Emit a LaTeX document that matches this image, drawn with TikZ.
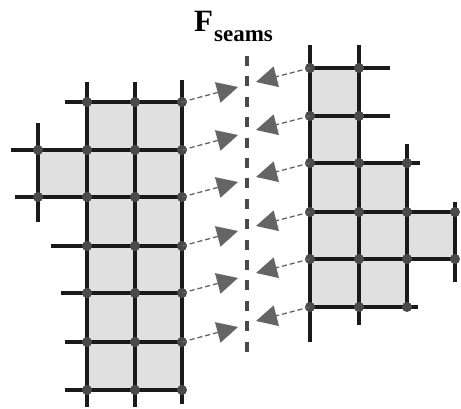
\documentclass[tikz,border=0pt]{standalone}
\usepackage{fontspec}
\setmainfont{Liberation Serif}
\usetikzlibrary{arrows.meta}
\definecolor{cellfill}{HTML}{E0E0E0}
\definecolor{dotgray}{HTML}{4A4A4A}
\definecolor{arrgray}{HTML}{656565}
\definecolor{gridline}{HTML}{1A1A1A}
\begin{document}
\begin{tikzpicture}[x=1pt,y=-1pt,
  cell/.style={fill=cellfill,draw=none},
  gline/.style={draw=gridline,line width=3.4pt},
  dot/.style={circle,fill=dotgray,inner sep=0pt,minimum size=10pt},
  seamarrow/.style={draw=arrgray,line width=1.3pt,dash pattern=on 5pt off 3pt,
    -{Triangle[length=21pt,width=21pt]}},
  seamline/.style={draw=dotgray,line width=3.5pt,dash pattern=on 10pt off 10.4pt}]
\useasboundingbox (0,0) rectangle (461,409);
% title
\node[anchor=base west,inner sep=0pt] (title) at (194,32)
  {\fontsize{31}{31}\selectfont\bfseries F\kern1pt\raisebox{-10pt}{\fontsize{23}{23}\selectfont seams}};
% cells
\fill[cell] (87,102) rectangle (182,390);
\fill[cell] (38,150) rectangle (87,197);
\fill[cell] (310,68) rectangle (359,307);
\fill[cell] (359,163) rectangle (407,307);
\fill[cell] (407,212) rectangle (455,259);
% left grid lines
\draw[gline] (65,102)--(182,102);
\draw[gline] (11,150)--(182,150);
\draw[gline] (15,197)--(182,197);
\draw[gline] (51,246)--(182,246);
\draw[gline] (61,293)--(182,293);
\draw[gline] (65,342)--(182,342);
\draw[gline] (65,390)--(182,390);
\draw[gline] (38,123)--(38,222);
\draw[gline] (87,82)--(87,407);
\draw[gline] (135,82)--(135,407);
\draw[gline] (182,80)--(182,404);
% right grid lines
\draw[gline] (310,68)--(390,68);
\draw[gline] (310,116)--(390,116);
\draw[gline] (310,163)--(420,163);
\draw[gline] (310,212)--(455,212);
\draw[gline] (310,259)--(455,259);
\draw[gline] (310,307)--(418,307);
\draw[gline] (310,45)--(310,342);
\draw[gline] (359,45)--(359,325);
\draw[gline] (407,144)--(407,307);
\draw[gline] (455,202)--(455,282);
% seam
\coordinate (seamtop) at (247,56);
\coordinate (seambot) at (247,352);
\draw[seamline] (seamtop)--(seambot);
% left dots
\foreach \y/\n in {102/1,150/2,197/3,246/4,293/5,342/6,390/7} {
  \node[dot] (l87-\n) at (87,\y) {};
  \node[dot] (l135-\n) at (135,\y) {};
  \node[dot] (l182-\n) at (182,\y) {};
}
\node[dot] (l38-2) at (38,150) {};
\node[dot] (l38-3) at (38,197) {};
% right dots
\foreach \y/\n in {68/1,116/2,163/3,212/4,259/5,307/6} {
  \node[dot] (r310-\n) at (310,\y) {};
  \node[dot] (r359-\n) at (359,\y) {};
}
\node[dot] (r407-3) at (407,163) {};
\node[dot] (r407-4) at (407,212) {};
\node[dot] (r407-5) at (407,259) {};
\node[dot] (r407-6) at (407,307) {};
\node[dot] (r455-4) at (455,212) {};
\node[dot] (r455-5) at (455,259) {};
% arrows
\foreach \y/\n in {102/1,150/2,197/3,246/4,293/5,342/6} {
  \coordinate (lt-\n) at (238,\y-15);
  \draw[seamarrow] (l182-\n.center)--(lt-\n);
}
\foreach \y/\n in {68/1,116/2,163/3,212/4,259/5,307/6} {
  \coordinate (rt-\n) at (256,\y+14);
  \draw[seamarrow] (r310-\n.center)--(rt-\n);
}
\end{tikzpicture}
\end{document}
